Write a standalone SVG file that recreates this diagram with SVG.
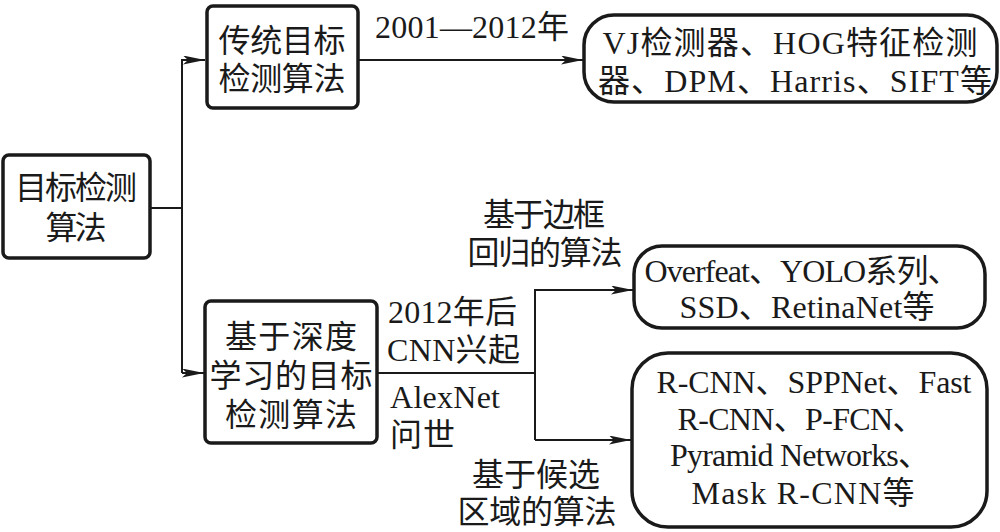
<svg xmlns="http://www.w3.org/2000/svg" width="1000" height="532" viewBox="0 0 1000 532">
<style>
.box{fill:#fff;stroke:#1a1a1a;stroke-width:3.5}
.con{fill:none;stroke:#1a1a1a;stroke-width:2}
text{font-family:"Liberation Serif","Noto Sans CJK SC",serif;font-size:32px;fill:#1a1a1a}
.m{text-anchor:middle}
</style>
<defs>
<marker id="arr" markerUnits="userSpaceOnUse" viewBox="0 0 22 9" refX="22" refY="4.5" markerWidth="22" markerHeight="9" orient="auto">
<path d="M0,0 L22,4.5 L0,9 L5,4.5 z" fill="#1a1a1a"/>
</marker>
</defs>
<rect width="1000" height="532" fill="#fff"/>
<g id="connectors">
<path class="con" d="M150,208 H182"/>
<path class="con" d="M182,373 V60 H205" marker-end="url(#arr)"/>
<path class="con" d="M182,373 H204" marker-end="url(#arr)"/>
<path class="con" d="M358,60 H583" marker-end="url(#arr)"/>
<path class="con" d="M377,373 H535"/>
<path class="con" d="M535,440 V290 H633" marker-end="url(#arr)"/>
<path class="con" d="M535,440 H631" marker-end="url(#arr)"/>
</g>
<g id="labels">
<text x="472" y="38" class="m" textLength="194">2001—2012年</text>
<text x="544" y="226" class="m" textLength="122">基于边框</text>
<text x="545" y="264" class="m" textLength="155">回归的算法</text>
<text x="388" y="323" textLength="129">2012年后</text>
<text x="387" y="361" textLength="133">CNN兴起</text>
<text x="390" y="408" textLength="110">AlexNet</text>
<text x="390" y="446" textLength="65">问世</text>
<text x="536" y="486" class="m" textLength="128">基于候选</text>
<text x="537" y="523" class="m" textLength="159">区域的算法</text>
</g>
<g id="root">
<rect class="box" x="3" y="155" width="147" height="103" rx="6"/>
<text x="76" y="199" class="m" textLength="122">目标检测</text>
<text x="76" y="239" class="m" textLength="61">算法</text>
</g>
<g id="traditional">
<rect class="box" x="207" y="6" width="151" height="102" rx="6"/>
<text x="282" y="52" class="m" textLength="127">传统目标</text>
<text x="282" y="90" class="m" textLength="127">检测算法</text>
</g>
<g id="deep">
<rect class="box" x="205" y="301" width="172" height="142" rx="6"/>
<text x="291" y="348" class="m" textLength="132">基于深度</text>
<text x="291" y="387" class="m" textLength="163">学习的目标</text>
<text x="291" y="426" class="m" textLength="132">检测算法</text>
</g>
<g id="traditional-methods">
<rect class="box" x="584" y="15" width="413" height="87" rx="30"/>
<text x="790" y="54" class="m" textLength="375">VJ检测器、HOG特征检测</text>
<text x="795" y="92" class="m" textLength="394">器、DPM、Harris、SIFT等</text>
</g>
<g id="regression-methods">
<rect class="box" x="634" y="246" width="351" height="82" rx="28"/>
<text x="802" y="282" class="m" textLength="315">Overfeat、YOLO系列、</text>
<text x="807" y="318" class="m" textLength="255">SSD、RetinaNet等</text>
</g>
<g id="region-methods">
<rect class="box" x="632" y="353" width="355" height="174" rx="36"/>
<text x="814" y="393" class="m" textLength="315">R-CNN、SPPNet、Fast</text>
<text x="801" y="430" class="m" textLength="247">R-CNN、P-FCN、</text>
<text x="800" y="466" class="m" textLength="260">Pyramid Networks、</text>
<text x="803" y="504" class="m" textLength="223">Mask R-CNN等</text>
</g>
</svg>
